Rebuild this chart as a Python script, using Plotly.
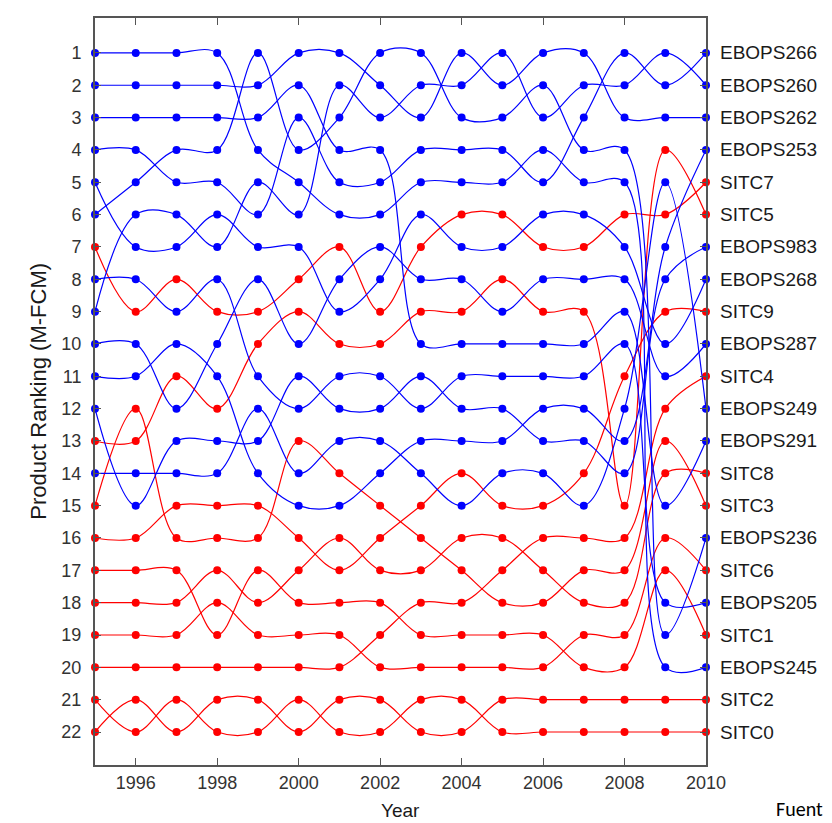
import plotly.graph_objects as go

years = list(range(1995, 2011))

# Product rankings per year (1995..2010)
EBOPS266 = [4, 4, 5, 5, 6, 3, 5, 5, 4, 4, 4, 5, 3, 1, 2, 1]
EBOPS260 = [9, 6, 6, 7, 5, 6, 2, 3, 2, 2, 1, 3, 2, 2, 1, 2]
EBOPS262 = [2, 2, 2, 2, 2, 1, 1, 2, 3, 1, 2, 1, 1, 3, 3, 3]
EBOPS253 = [11, 11, 10, 11, 14, 15, 15, 14, 13, 13, 13, 12, 12, 13, 7, 4]
EBOPS983 = [12, 15, 13, 13, 13, 11, 12, 12, 11, 12, 12, 13, 13, 14, 8, 7]
EBOPS268 = [5, 7, 7, 6, 7, 7, 9, 8, 6, 7, 7, 6, 6, 7, 10, 8]
EBOPS287 = [10, 10, 12, 10, 8, 10, 8, 7, 8, 8, 9, 8, 8, 8, 11, 10]
EBOPS249 = [14, 14, 14, 14, 12, 14, 13, 13, 14, 15, 14, 14, 15, 12, 5, 12]
EBOPS291 = [3, 3, 3, 3, 3, 2, 4, 4, 10, 10, 10, 10, 10, 9, 15, 13]
EBOPS236 = [6, 5, 4, 4, 1, 4, 3, 1, 1, 3, 3, 2, 4, 4, 19, 16]
EBOPS205 = [8, 8, 9, 8, 11, 12, 11, 11, 12, 11, 11, 11, 11, 10, 18, 18]
EBOPS245 = [1, 1, 1, 1, 4, 5, 6, 6, 5, 5, 5, 4, 5, 5, 20, 20]
SITC7 = [7, 9, 8, 9, 9, 8, 7, 9, 7, 6, 6, 7, 7, 6, 6, 5]
SITC5 = [13, 13, 11, 12, 10, 9, 10, 10, 9, 9, 8, 9, 9, 15, 4, 6]
SITC9 = [16, 16, 15, 15, 15, 16, 17, 16, 15, 14, 15, 15, 14, 11, 9, 9]
SITC4 = [20, 20, 20, 20, 20, 20, 20, 19, 18, 18, 17, 16, 16, 16, 12, 11]
SITC8 = [18, 18, 18, 17, 18, 17, 16, 17, 17, 16, 16, 17, 18, 18, 14, 14]
SITC3 = [15, 12, 16, 16, 16, 13, 14, 15, 16, 17, 18, 18, 17, 17, 13, 15]
SITC6 = [19, 19, 19, 18, 19, 19, 19, 20, 20, 20, 20, 20, 19, 19, 16, 17]
SITC1 = [17, 17, 17, 19, 17, 18, 18, 18, 19, 19, 19, 19, 20, 20, 17, 19]
SITC2 = [22, 21, 22, 21, 21, 22, 21, 21, 22, 22, 21, 21, 21, 21, 21, 21]
SITC0 = [21, 22, 21, 22, 22, 21, 22, 22, 21, 21, 22, 22, 22, 22, 22, 22]

ebops = [("EBOPS266", EBOPS266), ("EBOPS260", EBOPS260), ("EBOPS262", EBOPS262),
         ("EBOPS253", EBOPS253), ("EBOPS983", EBOPS983), ("EBOPS268", EBOPS268),
         ("EBOPS287", EBOPS287), ("EBOPS249", EBOPS249), ("EBOPS291", EBOPS291),
         ("EBOPS236", EBOPS236), ("EBOPS205", EBOPS205), ("EBOPS245", EBOPS245)]
sitc = [("SITC7", SITC7), ("SITC5", SITC5), ("SITC9", SITC9), ("SITC4", SITC4),
        ("SITC8", SITC8), ("SITC3", SITC3), ("SITC6", SITC6), ("SITC1", SITC1),
        ("SITC2", SITC2), ("SITC0", SITC0)]

BLUE = "#0000ff"
RED = "#ff0000"
FONT = "Liberation Sans, Arial, sans-serif"

fig = go.Figure()
for group, col in ((sitc, RED), (ebops, BLUE)):
    for name, vals in group:
        fig.add_trace(go.Scatter(
            x=years, y=vals, name=name, mode="lines+markers",
            line=dict(color=col, width=1.2, shape="spline", smoothing=1.0),
            marker=dict(color=col, size=8),
            cliponaxis=False, showlegend=False, hoverinfo="name+x+y"))

# product labels on the right, at their 2010 rank
for group in (ebops, sitc):
    for name, vals in group:
        fig.add_annotation(x=years[-1], y=vals[-1], text=name, showarrow=False,
                           xanchor="left", yanchor="middle", xshift=12,
                           font=dict(size=19, color="#1a1a1a", family=FONT))

fig.add_annotation(xref="paper", yref="paper", x=-0.093, y=0.5,
                   text="Product Ranking (M-FCM)", textangle=-90, showarrow=False,
                   xanchor="center", yanchor="middle",
                   font=dict(size=22, color="#1a1a1a", family=FONT))
fig.add_annotation(xref="paper", yref="paper", x=0.5, y=-0.078, text="Year",
                   showarrow=False, xanchor="center", yanchor="bottom",
                   font=dict(size=19, color="#1a1a1a", family=FONT))
fig.add_annotation(xref="paper", yref="paper", x=1.112, y=-0.078, text="Fuent",
                   showarrow=False, xanchor="left", yanchor="bottom",
                   font=dict(size=20, color="#000000", family="Carlito, Lato, sans-serif"))

fig.update_layout(
    width=832, height=823,
    margin=dict(l=87, r=134, t=8, b=66),
    plot_bgcolor="white", paper_bgcolor="white",
    font=dict(family=FONT, size=18, color="#333333"),
    xaxis=dict(range=[1995, 2010], tickvals=list(range(1996, 2011, 2)),
               ticks="inside", ticklen=7, tickcolor="#555555", mirror="ticks",
               showline=True, linecolor="#555555", linewidth=2, showgrid=False,
               zeroline=False, tickfont=dict(size=18, color="#333333")),
    yaxis=dict(range=[23.02, -0.08], tickvals=list(range(1, 23)),
               ticks="inside", ticklen=6, tickcolor="#555555", mirror="ticks",
               showline=True, linecolor="#555555", linewidth=2, showgrid=False,
               zeroline=False, tickfont=dict(size=18, color="#333333"),
               ticklabelstandoff=8),
)

fig.write_html("out.html")
